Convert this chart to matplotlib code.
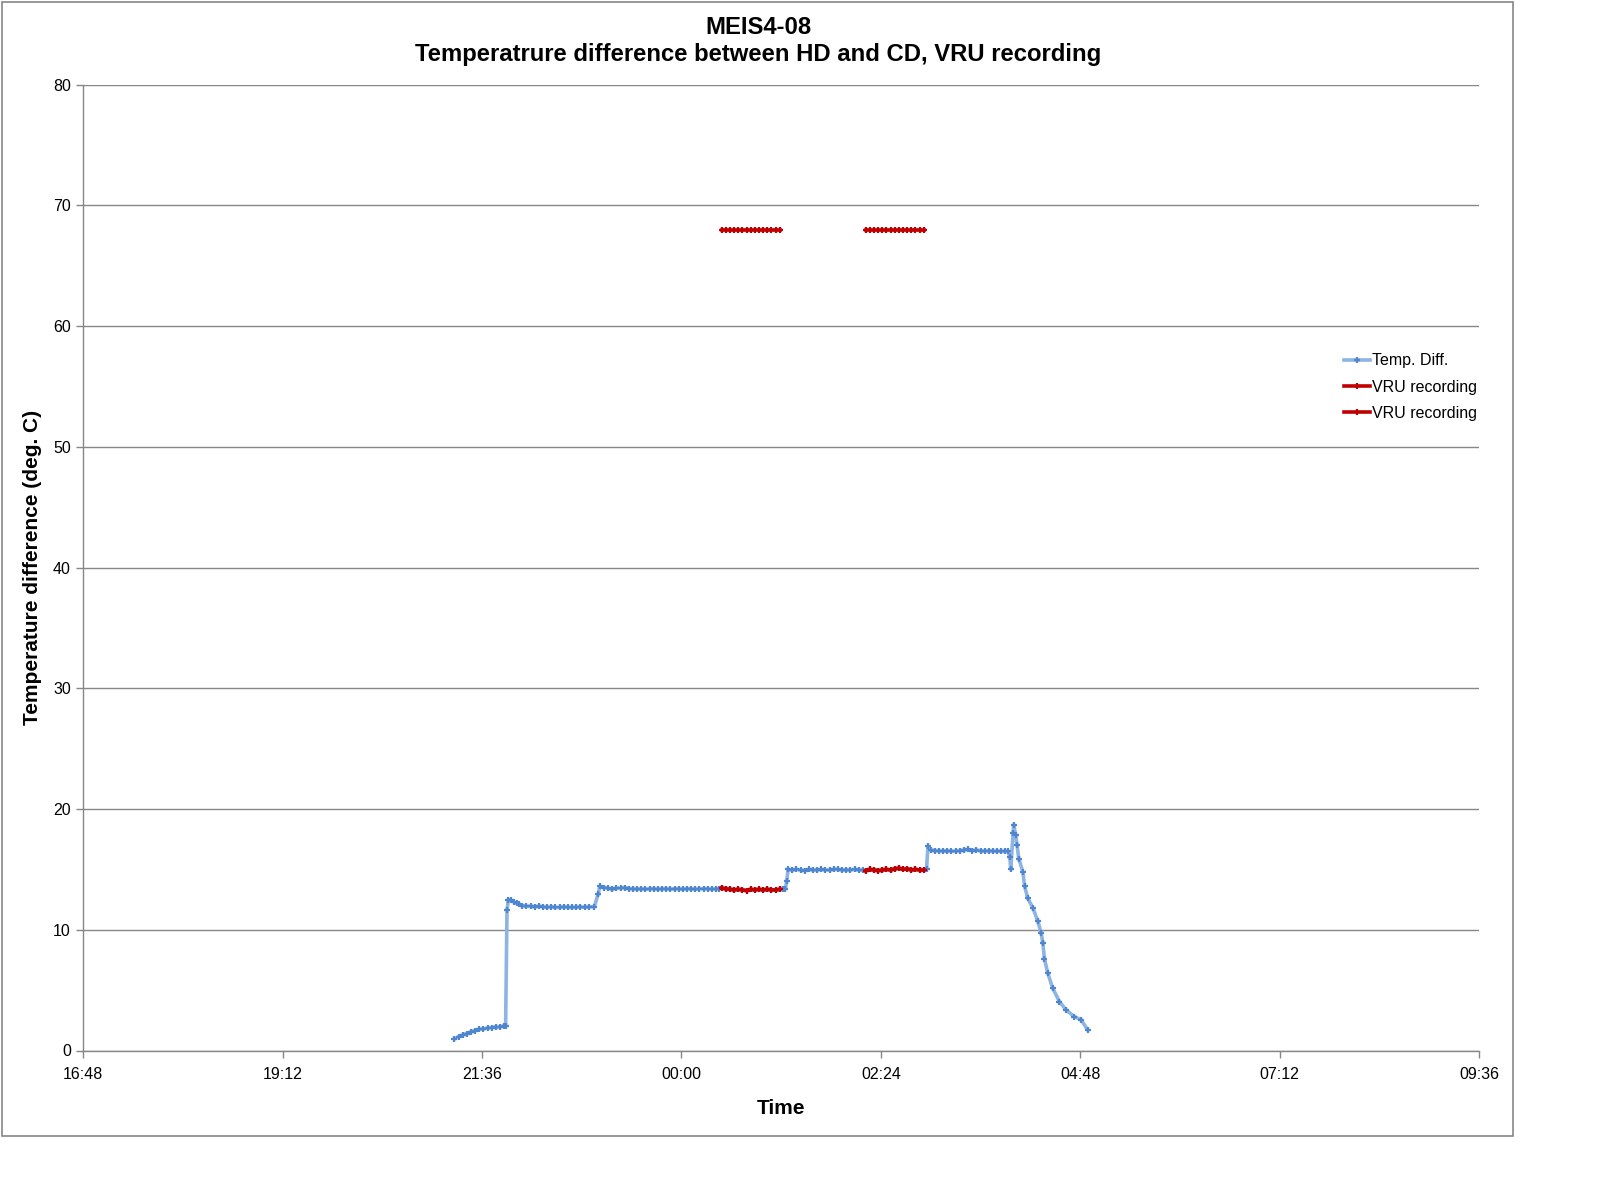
import matplotlib
matplotlib.use("Agg")
import matplotlib.pyplot as plt
import matplotlib.dates as mdates
from matplotlib.patches import Rectangle
from matplotlib.lines import Line2D
from datetime import datetime, timedelta

plt.rcParams['font.family'] = ['Liberation Sans', 'DejaVu Sans']

title = "MEIS4-08\nTemperatrure difference between HD and CD, VRU recording"
x_label = "Time"
y_label = "Temperature difference (deg. C)"
series_names = ["Temp. Diff.", "VRU recording", "VRU recording"]

x_tick_labels = ["16:48", "19:12", "21:36", "00:00", "02:24", "04:48", "07:12", "09:36"]
y_ticks = [0, 10, 20, 30, 40, 50, 60, 70, 80]

temp_times = [
    "21:16", "21:19", "21:22", "21:25", "21:28", "21:31", "21:34", "21:37", "21:40", "21:43",
    "21:46", "21:49", "21:52", "21:53", "21:54", "21:55", "21:57", "21:59", "22:01", "22:03",
    "22:05", "22:08", "22:11", "22:14", "22:17", "22:20", "22:23", "22:26", "22:29", "22:32",
    "22:35", "22:38", "22:41", "22:44", "22:47", "22:50", "22:53", "22:57", "23:00", "23:01",
    "23:04", "23:07", "23:10", "23:13", "23:16", "23:19", "23:22", "23:25", "23:28", "23:31",
    "23:34", "23:37", "23:40", "23:43", "23:46", "23:49", "23:52", "23:55", "23:58", "00:01",
    "00:04", "00:07", "00:10", "00:13", "00:16", "00:19", "00:22", "00:25", "00:27",
    "00:29", "00:32", "00:35", "00:38", "00:41", "00:44", "00:47", "00:50", "00:53", "00:56",
    "00:59", "01:02", "01:05", "01:08", "01:11",
    "01:13", "01:15", "01:16", "01:17", "01:20", "01:23", "01:26", "01:29", "01:32", "01:35",
    "01:38", "01:41", "01:44", "01:47", "01:50", "01:53", "01:56", "01:59", "02:02", "02:05",
    "02:08", "02:11",
    "02:13", "02:16", "02:19", "02:22", "02:25", "02:28", "02:31", "02:34", "02:37", "02:40",
    "02:43", "02:46", "02:49", "02:52", "02:55",
    "02:57", "02:58", "03:00", "03:03", "03:06", "03:09", "03:12", "03:15", "03:18", "03:21",
    "03:24", "03:27", "03:30", "03:33", "03:36", "03:39", "03:42", "03:45", "03:48", "03:51",
    "03:54", "03:56", "03:57:10", "03:57:50", "03:59:30", "04:00:00", "04:01:20", "04:02:25",
    "04:03:35", "04:06:35", "04:07:50", "04:10:10", "04:13:50", "04:17:25", "04:19:50",
    "04:21:00", "04:22:10", "04:24:35", "04:28:10", "04:33:00", "04:37:50", "04:43:50",
    "04:48:35", "04:53:25",
]
temp_values = [
    0.95, 1.15, 1.3, 1.4, 1.55, 1.65, 1.75, 1.8, 1.85, 1.9,
    1.95, 1.95, 2.05, 2.05, 11.6, 12.5, 12.45, 12.3, 12.2, 12.1,
    12.0, 11.95, 11.95, 11.9, 11.95, 11.9, 11.85, 11.9, 11.85, 11.85,
    11.9, 11.85, 11.85, 11.85, 11.9, 11.85, 11.9, 11.9, 13.0, 13.6,
    13.5, 13.45, 13.35, 13.45, 13.45, 13.5, 13.4, 13.4, 13.35, 13.4,
    13.35, 13.4, 13.4, 13.35, 13.4, 13.4, 13.35, 13.4, 13.4, 13.35,
    13.4, 13.4, 13.35, 13.4, 13.4, 13.4, 13.35, 13.4, 13.4,
    13.45, 13.4, 13.35, 13.3, 13.35, 13.3, 13.25, 13.35, 13.3, 13.35,
    13.3, 13.35, 13.3, 13.3, 13.35,
    13.35, 13.35, 14.0, 15.0, 14.95, 15.0, 14.95, 14.9, 15.0, 14.95,
    14.95, 15.0, 14.95, 14.95, 15.0, 15.0, 14.95, 14.95, 14.95, 15.0,
    14.95, 14.95,
    14.9, 15.0, 14.95, 14.9, 14.95, 15.0, 14.95, 15.05, 15.1, 15.0,
    15.05, 14.95, 15.0, 14.95, 14.95,
    15.0, 16.9, 16.6, 16.55, 16.55, 16.5, 16.55, 16.5, 16.5, 16.55,
    16.6, 16.65, 16.55, 16.6, 16.55, 16.5, 16.55, 16.5, 16.5, 16.5,
    16.5, 16.5, 16.0, 15.0, 18.0, 18.7, 17.85, 17.0,
    15.9, 14.8, 13.6, 12.6, 11.8, 10.7, 9.7,
    8.9, 7.6, 6.4, 5.15, 4.05, 3.35, 2.8,
    2.55, 1.7,
]

vru_windows = [("00:29", "01:11"), ("02:13", "02:55")]
vru_marker_level = 68


def to_dt(s):
    parts = [int(p) for p in s.split(":")]
    while len(parts) < 3:
        parts.append(0)
    h, m, sec = parts
    day = 1 if h >= 12 else 2
    return datetime(2000, 1, day, h, m, sec)


tx = [to_dt(s) for s in temp_times]

W, H = 1598, 1202
fig = plt.figure(figsize=(W / 100, H / 100), dpi=100)
fig.patches.append(Rectangle((2 / W, 1 - 1136 / H), (1513 - 2) / W, (1136 - 1.5) / H,
                             transform=fig.transFigure, fill=False,
                             edgecolor='#868686', linewidth=1.2))

ax = fig.add_axes([83.3 / W, 1 - 1050.5 / H, (1479 - 83.3) / W, (1050.5 - 84.7) / H])

grid_c = '#868686'
blue_line = '#8DB4E2'
blue_mark = '#4F86D0'
red = '#C00000'

ax.plot(tx, temp_values, color=blue_line, lw=2.6, marker='+', ms=4.5,
        mec=blue_mark, mew=1.6, zorder=3, solid_joinstyle='round')

for (a, b) in vru_windows:
    ta, tb = to_dt(a), to_dt(b)
    xs = [t for t in tx if ta <= t <= tb]
    ys = [v for t, v in zip(tx, temp_values) if ta <= t <= tb]
    ax.plot(xs, ys, color=red, lw=2.6, marker='+', ms=4.5, mec=red, mew=1.6, zorder=4)
    ax.plot(xs, [vru_marker_level] * len(xs), color=red, lw=2.6, marker='+', ms=4.5,
            mec=red, mew=1.6, zorder=4)

xticks = [to_dt(s) for s in x_tick_labels]
ax.set_xlim(xticks[0], xticks[-1])
ax.set_xticks(xticks)
ax.set_xticklabels(x_tick_labels)
ax.set_ylim(0, 80)
ax.set_yticks(y_ticks)

ax.grid(axis='y', color=grid_c, lw=1.0)
ax.set_axisbelow(True)
for s in ['top', 'right']:
    ax.spines[s].set_visible(False)
for s in ['left', 'bottom']:
    ax.spines[s].set_color(grid_c)
    ax.spines[s].set_linewidth(1.0)
ax.tick_params(axis='both', direction='out', length=5, width=1, color=grid_c,
               labelsize=11.5, labelcolor='black')
ax.tick_params(axis='x', pad=7)
ax.tick_params(axis='y', pad=4)

ax.set_xlabel(x_label, fontsize=15, fontweight='bold', labelpad=12)
ax.set_ylabel(y_label, fontsize=15, fontweight='bold', labelpad=8)

fig.text(758 / W, 1 - 41 / H, title, ha='center', va='center', fontsize=17.2,
         fontweight='bold', linespacing=1.2)

handles = [
    Line2D([], [], color=blue_line, lw=2.6, marker='+', ms=4.5, mec=blue_mark, mew=1.6),
    Line2D([], [], color=red, lw=2.6, marker='+', ms=4.5, mec=red, mew=1.6),
    Line2D([], [], color=red, lw=2.6, marker='+', ms=4.5, mec=red, mew=1.6),
]
fig.legend(handles, series_names, loc='upper left',
           bbox_to_anchor=(1338 / W, 1 - 347 / H), frameon=False, fontsize=11.5,
           handlelength=1.6, handletextpad=0.1, labelspacing=0.7, borderaxespad=0)

fig.savefig("out.png", dpi=100, facecolor='white')
